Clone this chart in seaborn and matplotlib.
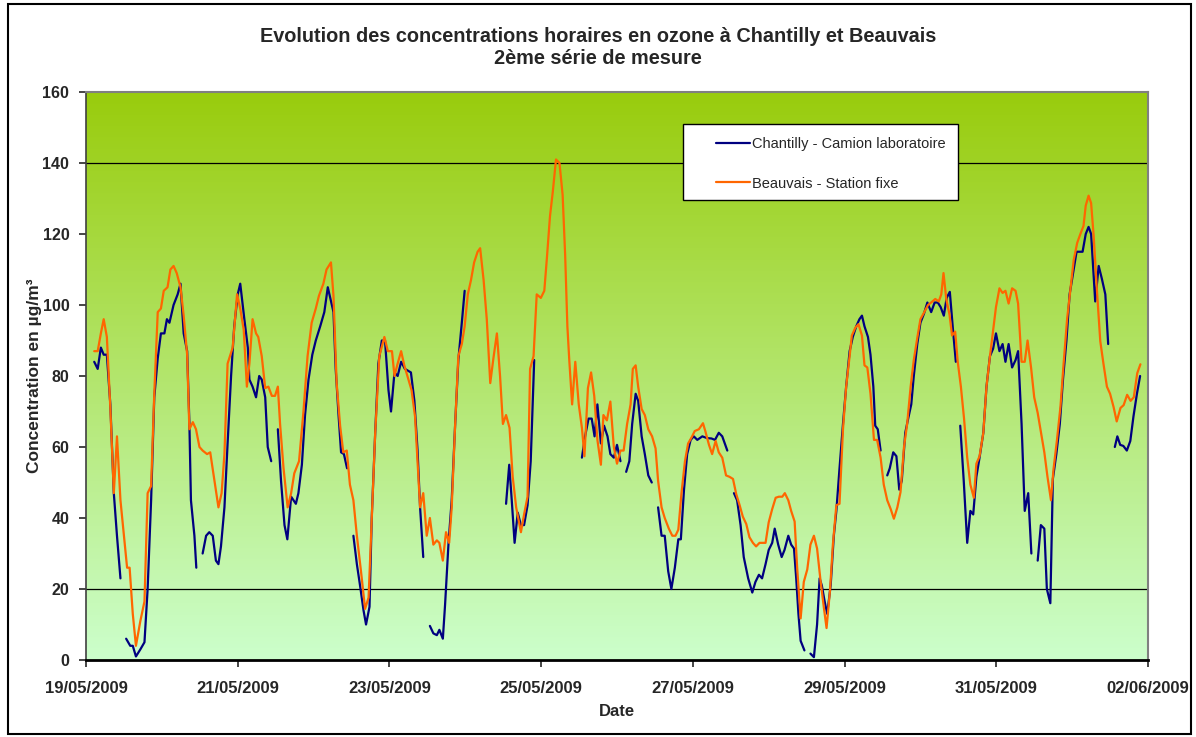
import numpy as np
import pandas as pd
import matplotlib
matplotlib.use("Agg")
import matplotlib.pyplot as plt
import matplotlib.dates as mdates
from matplotlib.patches import Rectangle
from matplotlib.lines import Line2D
import seaborn as sns

nan = np.nan

# ---- data (hours since 19/05/2009 00:00, ozone in µg/m3; nan = missing) ----
chantilly_hours = [
    2.6, 3.7, 4.7, 5.6, 6.6, 7.7, 8.8, 9.8, 10.9, 11.5,
    12.7, 14, 14.8, 15.8, 17.2, 18.5, 19.5, 20.6, 21.6, 22.7, 23.7, 24.8, 25.6, 26.4, 27.7, 29, 29.9,
    30.9, 32, 32.7, 33.2, 34.3, 34.9, 35.5,
    36.9, 38, 39, 40.1, 41.1, 41.9, 42.7, 43.8, 44.8, 45.9, 46.9, 48, 48.8, 50.1, 51.2, 51.7, 52.7,
    53.8, 54.8, 55.6, 56.7, 57.5, 58.6, 59.5,
    60.7, 61.7, 62.8, 63.7, 64.9, 66.4, 67.2, 68.3, 69.3, 70.4, 71.6, 72.7, 74.1, 75.4, 76.5, 78.3,
    79, 79.9, 80.7, 81.6, 82.6, 83.5,
    84.6, 85.7, 86.7, 87.8, 88.6, 89.7, 90.4, 91.5, 92.5, 93.6, 94.6, 95.7, 96.5, 97.6, 98.6, 99.7,
    100.9, 102.8, 103.9, 104.9, 105.7, 106.7, 107.7,
    108.8, 109.9, 111, 111.8, 112.9, 113.6, 114.7, 115.7, 116.8, 117.8, 118.9, 119.8, 125,
    132.9, 133.9, 134.7, 135.6, 136.6, 137.6, 138.6, 139.7, 140.7, 141.8, 150,
    156.9, 157.9, 159, 160, 160.9, 161.8, 162.9, 163.9, 165, 165.9, 167, 168, 169.1, 170,
    170.9, 171.9, 172.8, 173.9, 174.7, 175.8, 176.8, 177.9, 179, 180,
    181, 182.1, 183.1, 184.2, 185.2, 186.3, 187.4, 188.2, 189.2, 190.2, 191.3, 192.3, 193.4, 195,
    196.5, 197.9, 199, 200.2, 201.3, 202.9, 204,
    205, 206, 207.1, 208.1, 209.5, 210.8, 211.8, 212.9, 213.9, 215, 216, 217.1, 217.9, 219, 220.1,
    221, 222.2, 223.1, 224, 224.7, 225.4, 226.1, 227.3, 228.2,
    229.2, 230.3, 231.3, 232.1, 232.8, 233.7, 234.5, 235.6, 236.6, 237.4, 238.4, 239.5, 240.5, 241.6,
    242.6, 243.7, 244.7, 245.5, 246.3, 247.4, 248.2, 249.1, 249.7, 250.5, 251.4, 252.5,
    253.5, 254.3, 255.4, 256.4, 257.3, 258.1, 259.2, 260, 261.1, 261.9, 263, 264, 265.1, 266.2, 267.4,
    268.5, 269.5, 270.4, 271.4, 272.3, 273.3, 274.3, 275.2, 276,
    276.6, 277.7, 278.8, 279.8, 280.7, 281.7, 282.7, 283.9, 284.9, 286, 287, 287.9, 289, 290, 290.9,
    291.9, 293, 294.1, 294.9, 296, 297, 298.1, 299.1, 300,
    301.1, 302.1, 303.2, 304, 305.1, 305.9, 307, 308.1, 309.1, 310.2, 311.2, 312.3, 313.4, 314.2,
    315.3, 316.3, 317.2, 318, 319.3, 320.4, 321.4, 322.5, 323.4, 324.5,
    325.5, 326.3, 327.2, 328.2, 329.3, 330.4, 331.4, 332.5, 333.5,
]
chantilly_ozone = [
    84, 82, 88, 86, 86, 72, 47, 35, 23, nan,
    6, 4, 4, 1, 3, 5, 20, 45, 74, 85, 92, 92, 96, 95, 100, 103, 106,
    92, 87, 67, 45, 35, 26, nan,
    30, 35, 36, 35, 28, 27, 32, 43, 61, 80, 94, 103, 106, 96, 88, 79, 77,
    74, 80, 79, 74, 60, 56, nan,
    65, 50.5, 38, 34, 46, 44, 47, 55, 69, 79, 86, 90, 94, 98, 105, 98,
    82, 69, 58.5, 58, 54, nan,
    35, 27, 21, 14, 10, 15, 40, 64, 83.5, 90, 90, 76, 70, 81, 80, 84,
    82, 81, 73, 59, 43, 29, nan,
    9.6, 7.5, 7, 8.5, 6, 15.5, 33, 45, 66.5, 84.5, 95, 104, nan,
    44, 55, 45, 33, 41.5, 38, 38, 43.6, 56, 84.5, nan,
    57, 63, 68, 68, 63, 72, 61, 66, 63, 58, 57, 60.6, 56, nan,
    53, 56, 66.5, 75, 73, 63, 58, 52, 50, nan,
    43, 35, 35, 25, 20, 26, 34, 34, 48, 58, 62, 63, 62, 63,
    62.5, 62.4, 62, 64, 63, 59, nan,
    47, 45, 38, 29, 23, 19, 22, 24, 23, 27, 31, 33, 37, 32.5, 29,
    31, 35, 32.5, 31.4, 23, 13, 5.4, 2.7, nan,
    1.8, 0.8, 10, 23, 21, 16.5, 13, 21, 35, 42, 54, 66.5, 77, 87,
    91, 94, 96, 97, 94, 91, 86, 77, 66, 65, 59, nan,
    52, 54, 58.5, 57.4, 48, 50.5, 64, 67.5, 72, 80, 89, 95, 97.5, 100.7, 98,
    100.7, 100.7, 99.4, 97, 102, 103.7, 93, 84, nan,
    66, 50.5, 33, 42, 41, 51.6, 57, 64, 77, 85.6, 87.7, 92, 87, 89, 84,
    89, 82.4, 84.5, 87, 66.5, 42, 47, 30, nan,
    28, 38, 37, 20, 16, 51, 58, 66.5, 79, 90, 103, 109, 115, 115,
    115, 120, 122, 120, 101, 111, 107.4, 103, 89, nan,
    60, 63, 60.6, 60.3, 59, 61.7, 68.6, 75, 80,
]

beauvais_hours = [
    2.6, 3.7, 4.7, 5.6, 6.6, 7.7, 8.8, 9.8, 10.9, 11.9, 13, 13.8, 14.8, 15.8, 17.2, 18.5, 19.5, 20.6,
    21.6, 22.7, 23.7, 24.6, 25.8, 26.7, 27.7, 28.7, 29.9, 30.9, 32, 32.7, 33.8, 34.8, 35.9, 36.9,
    38.3, 39.3, 40.4, 41.9, 42.9, 43.8, 44.8, 46.4, 47.8, 48.8, 49.9, 50.9, 51.7, 52.7, 53.8, 54.5,
    55.6, 56.7, 57.7, 58.8, 59.8, 60.7, 61.4, 62.5, 63.8, 64.9, 65.9, 67.4, 68.8, 70.1, 71.4, 72.7,
    73.7, 75.1, 76.1, 77.5, 78.3, 79.3, 80.4, 81.4, 82.5, 83.5, 84.6, 85.7, 87, 88.3, 89.4, 90.4,
    91.5, 92.8, 94.4, 95.5, 96.8, 97.6, 98.6, 99.7, 100.7, 102, 103, 104.1, 104.9, 105.7, 106.7,
    107.8, 108.8, 109.9, 111, 111.8, 112.9, 113.9, 114.9, 115.7, 116.8, 117.8, 118.9, 119.8, 120.8,
    121.8, 122.8, 123.9, 124.7, 125.8, 126.8, 127.9, 128.9, 130, 131, 131.9, 132.9, 134, 135, 136.1,
    137.6, 138.6, 139.7, 140.5, 141.6, 142.6, 143.9, 145, 145.8, 146.8, 147.7, 148.7, 149.8, 150.8,
    151.6, 152.3, 152.9, 153.8, 154.8, 155.9, 156.9, 157.7, 158.8, 159.8, 160.8, 161.8, 162.9, 163.7,
    164.8, 165.9, 167, 168, 169.1, 170.1, 171.2, 172.3, 173, 173.9, 174.7, 175.8, 176.8, 177.9,
    179.1, 180.2, 181, 182.1, 183.1, 184.4, 185.5, 186.5, 187.4, 188.4, 189.5, 190.5, 191.6, 192.6,
    193.9, 195.2, 196, 197.1, 198.1, 199.2, 200.2, 201.3, 202.5, 203.6, 204.7, 205.7, 206.8, 207.8,
    208.9, 209.9, 211, 212, 213.1, 214.2, 215, 216, 217.1, 218.2, 219.2, 220.3, 221.1, 222.2, 223.1,
    224.2, 225, 226.1, 227.1, 228.2, 229.2, 230.3, 231.3, 232.4, 233.5, 234.3, 235.4, 236.3, 237.4,
    238.4, 239.5, 240.5, 241.6, 242.3, 243.4, 244.4, 245.5, 246.3, 247.2, 248.2, 249.3, 250.3, 251.4,
    252.4, 253.5, 254.6, 255.6, 256.7, 257.7, 258.8, 259.8, 260.9, 261.9, 263, 264, 265.1, 266.4,
    267.4, 268.7, 269.8, 270.6, 271.3, 272.2, 273.2, 274, 275, 275.8, 276.8, 277.8, 278.8, 279.8,
    280.9, 281.7, 282.7, 283.9, 284.9, 286, 287, 287.9, 289, 290, 290.9, 291.9, 293, 294.1, 294.9,
    296, 297, 297.9, 299, 300, 301.1, 302.1, 303.2, 304.2, 305.3, 306.1, 307.2, 308.3, 309.3, 310.4,
    311.5, 312.5, 313.6, 314.6, 315.6, 316.3, 317.2, 318, 318.8, 319.8, 320.9, 321.9, 323, 324,
    325.1, 326.1, 327.3, 328.3, 329.4, 330.5, 331.5, 332.6, 333.6,
]
beauvais_ozone = [
    87, 87, 92, 96, 91, 71, 47, 63, 45, 36, 26, 26, 13, 4, 11, 16.5, 47, 49,
    75, 98, 99, 104, 105, 110, 111, 109, 105, 97, 86, 65, 67, 65, 60, 59,
    58, 58.5, 52, 43, 47, 58, 83.5, 88, 103, 99, 93, 77, 83.5, 96, 92, 91,
    85.6, 76.6, 77, 74.4, 74.4, 77, 66.5, 54, 43, 47, 52.6, 56, 70, 85.6, 95, 99,
    102.6, 106, 110, 112, 102.6, 78, 66, 58.5, 59, 49.4, 45, 35, 25, 14.4, 17.6, 40,
    64, 85.6, 91, 87, 87, 80, 83.5, 87, 83, 79, 76, 68.6, 56, 43, 47,
    35, 40, 32.5, 33.7, 33, 28, 36, 33, 43, 66.5, 85.6, 89, 94, 103,
    107, 112, 115, 116, 107, 96, 78, 85, 92, 80, 66.5, 69, 65.4, 51.6, 43,
    36, 41, 46, 82, 85.6, 103, 102, 104, 113, 125, 132, 141, 140, 131,
    114, 94, 84.5, 72, 84, 72, 65.4, 57.4, 76.6, 81, 74.4, 62, 55, 69,
    67.5, 72.8, 60, 55.3, 59, 59, 66.5, 72, 82, 83, 77, 70.7, 69, 65,
    63, 59.6, 50.5, 43, 40, 37, 35, 35, 36.7, 47, 56, 61, 62.7, 64.5,
    65, 66.7, 64.3, 60.6, 58, 61.7, 58.5, 57, 52, 51.6, 51, 46.8, 43.6, 40.4,
    38.3, 34.6, 33, 32, 33, 33, 33, 38.8, 42.5, 45.7, 46, 46, 47, 45, 42,
    39, 26, 11.7, 22, 25.5, 32.5, 35, 31.4, 22.3, 14.4, 9, 19.7, 32.5, 43.6,
    44, 65, 77, 85.6, 91.4, 93.6, 94.6, 91.4, 83, 82.4, 75, 62, 62, 57,
    49.4, 45, 42.5, 39.8, 43, 47.3, 60, 66.5, 77, 84.5, 90.7, 96, 97.8, 100,
    100.7, 101.7, 101, 103, 109, 101.5, 97.3, 91.4, 92.5, 84, 77, 68, 57, 49.4,
    45.7, 55.3, 57.4, 64, 77, 85.6, 93, 99.4, 104.7, 103.4, 104, 100.4, 104.7, 104, 100.4,
    84, 84, 90, 82.4, 74, 69.6, 64.3, 58.5, 51.6, 45, 53.7, 62, 71.3, 83.5, 96,
    104.7, 112.7, 117.5, 120, 122.3, 128, 130.8, 128.7, 119.6, 104.7, 89.8, 83.5, 77, 75,
    71.3, 67.2, 71, 71.8, 74.7, 73, 74, 80.8, 83.3,
]

series_names = ["Chantilly - Camion laboratoire", "Beauvais - Station fixe"]
series_colors = ["#000080", "#FF6600"]
y_ticks = [0, 20, 40, 60, 80, 100, 120, 140, 160]
threshold_lines = [20, 140]
start_date = pd.Timestamp("2009-05-19")
end_date = pd.Timestamp("2009-06-02")
title_lines = ["Evolution des concentrations horaires en ozone à Chantilly et Beauvais",
               "2ème série de mesure"]

# ---- build long table with segment ids (nan breaks the line) ----
frames = []
for name, hrs, vals in [(series_names[0], chantilly_hours, chantilly_ozone),
                        (series_names[1], beauvais_hours, beauvais_ozone)]:
    v = np.asarray(vals, dtype=float)
    seg = np.cumsum(np.isnan(v))
    df = pd.DataFrame({"time": start_date + pd.to_timedelta(np.asarray(hrs), unit="h"),
                       "ozone": v, "serie": name, "seg": [f"{name}-{s}" for s in seg]})
    frames.append(df.dropna())
data = pd.concat(frames, ignore_index=True)

# ---- figure ----
sns.set_style("white")
plt.rcParams["font.family"] = ["Liberation Sans", "DejaVu Sans"]

W, H = 1196, 737
fig = plt.figure(figsize=(W / 100, H / 100), dpi=100)
fig.patch.set_facecolor("white")

L, R, T, B = 86, 1148, 92, 660
pos = [L / W, 1 - B / H, (R - L) / W, (B - T) / H]

bg = fig.add_axes(pos, zorder=0)
top = np.array([0.60, 0.80, 0.05])
bot = np.array([0.80, 1.00, 0.80])
t = np.linspace(0, 1, 256)[:, None]
grad = (top[None, :] * (1 - t) + bot[None, :] * t)[:, None, :]
bg.imshow(grad, aspect="auto", extent=[0, 1, 0, 1], interpolation="bilinear")
bg.set_axis_off()

ax = fig.add_axes(pos, zorder=1)
ax.patch.set_alpha(0)

for yv in threshold_lines:
    ax.axhline(yv, color="black", lw=0.9, zorder=1)

sns.lineplot(data=data, x="time", y="ozone", hue="serie", units="seg", estimator=None,
             sort=False, palette=dict(zip(series_names, series_colors)),
             hue_order=series_names, lw=1.6, ax=ax, zorder=3, legend=False)

ax.set_xlim(start_date, end_date)
ax.set_ylim(0, 160)
ax.set_yticks(y_ticks)
ax.xaxis.set_major_locator(mdates.DayLocator(interval=2))
ax.xaxis.set_major_formatter(mdates.DateFormatter("%d/%m/%Y"))
ax.tick_params(axis="x", direction="out", length=5, width=1.2, pad=10, labelsize=12)
ax.tick_params(axis="y", direction="out", length=5, width=1.2, pad=7, labelsize=11.5)
for lab in ax.get_xticklabels() + ax.get_yticklabels():
    lab.set_fontweight("bold")
ax.xaxis.set_ticks_position("bottom")
ax.yaxis.set_ticks_position("left")

ax.set_xlabel("Date", fontsize=12, fontweight="bold", labelpad=6)
ax.set_ylabel("Concentration en µg/m³", fontsize=12.5, fontweight="bold", labelpad=0)

for side in ["top", "right"]:
    ax.spines[side].set_color("#808080")
    ax.spines[side].set_linewidth(1.5)
ax.spines["left"].set_color("#404040")
ax.spines["left"].set_linewidth(1.2)
ax.spines["bottom"].set_color("black")
ax.spines["bottom"].set_linewidth(2)

# legend: white box drawn explicitly, entries placed inside
fig.patches.append(Rectangle((683 / W, 1 - 200 / H), 275 / W, 76 / H, transform=fig.transFigure,
                             facecolor="white", edgecolor="black", lw=1.0, zorder=4))
handles = [Line2D([], [], color=c, lw=1.6) for c in series_colors]
leg = fig.legend(handles, series_names, loc="upper left",
                 bbox_to_anchor=(716 / W, 1 - 137 / H),
                 frameon=False, fontsize=10.5, handlelength=2.35, handletextpad=0.15,
                 labelspacing=1.75, borderpad=0, borderaxespad=0)
leg.set_zorder(6)

# title
fig.text(0.5, 1 - 36 / H, title_lines[0], ha="center", va="center", fontsize=14.3, fontweight="bold")
fig.text(0.5, 1 - 59 / H, title_lines[1], ha="center", va="center", fontsize=14.3, fontweight="bold")

# outer border
fig.patches.append(Rectangle((8 / W, 3 / H), (1191 - 8) / W, (733 - 3) / H, transform=fig.transFigure,
                             fill=False, edgecolor="black", lw=1.5))

fig.savefig("out.png", dpi=100)
